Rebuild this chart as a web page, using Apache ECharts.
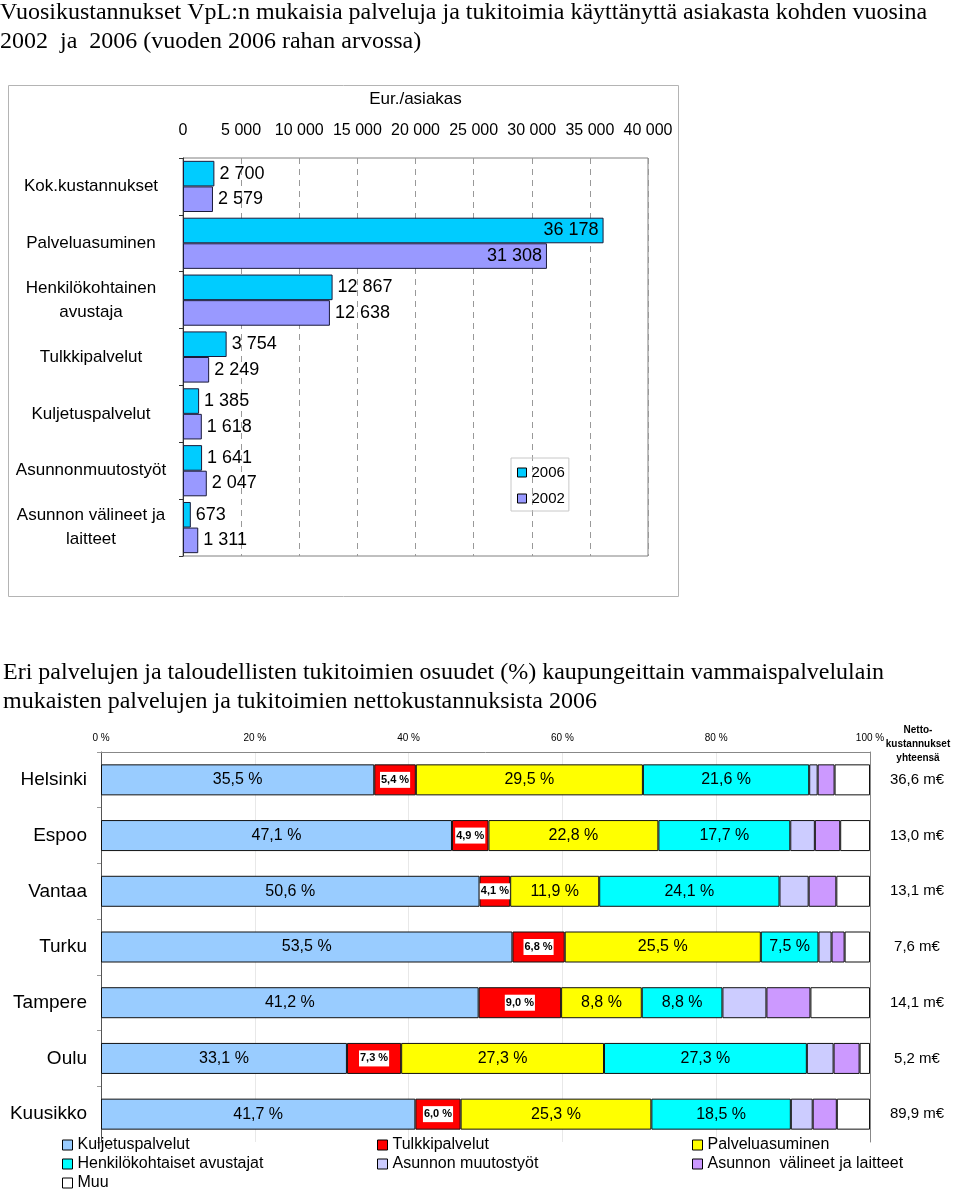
<!DOCTYPE html>
<html><head><meta charset="utf-8">
<script src="https://cdn.jsdelivr.net/npm/echarts@6/dist/echarts.min.js"></script>
<style>html,body{margin:0;padding:0;background:#fff}#c{width:960px;height:1191px}</style>
</head><body><div id="c"></div>
<script>
// ---- Top chart data (Eur./asiakas) ----
const costCategories = ['Kok.kustannukset', 'Palveluasuminen', 'Henkilökohtainen\navustaja', 'Tulkkipalvelut', 'Kuljetuspalvelut', 'Asunnonmuutostyöt', 'Asunnon välineet ja\nlaitteet'];
const costYears = ['2006', '2002'];
const cost2006 = [2700, 36178, 12867, 3754, 1385, 1641, 673];
const cost2002 = [2579, 31308, 12638, 2249, 1618, 2047, 1311];
const costAxisMax = 40000;
const costAxisStep = 5000;

// ---- Bottom chart data (% of net costs 2006) ----
const cities = ['Helsinki', 'Espoo', 'Vantaa', 'Turku', 'Tampere', 'Oulu', 'Kuusikko'];
const shareNames = ['Kuljetuspalvelut', 'Tulkkipalvelut', 'Palveluasuminen', 'Henkilökohtaiset avustajat', 'Asunnon muutostyöt', 'Asunnon  välineet ja laitteet', 'Muu'];
const kuljetus = [35.5, 47.1, 50.6, 53.5, 41.2, 33.1, 41.7];
const tulkki = [5.4, 4.9, 4.1, 6.8, 9.0, 7.3, 6.0];
const palveluasuminen = [29.5, 22.8, 11.9, 25.5, 8.8, 27.3, 25.3];
const avustajat = [21.6, 17.7, 24.1, 7.5, 8.8, 27.3, 18.5];
const muutostyot = [1.1, 3.3, 3.9, 1.7, 4.8, 3.6, 2.9];
const valineet = [2.2, 3.4, 3.7, 1.7, 4.8, 3.5, 3.2];
const muu = [4.6, 4.0, 4.5, 3.3, 6.5, 1.4, 4.4];
const nettoTotals = [36.6, 13.0, 13.1, 7.6, 14.1, 5.2, 89.9];
const pctTicks = [0, 20, 40, 60, 80, 100];

// ---- helpers ----
const fmtK = v => String(v).replace(/\B(?=(\d{3})+(?!\d))/g, ' ');
const fmtDec = v => v.toFixed(1).replace('.', ',');
const SANS = "'Liberation Sans', Arial, sans-serif";
const SERIF = "'Liberation Serif', 'Times New Roman', serif";

const shareArrays = [kuljetus, tulkki, palveluasuminen, avustajat, muutostyot, valineet, muu];
const shareColors = ['#99CCFF', '#FF0000', '#FFFF00', '#00FFFF', '#CCCCFF', '#CC99FF', '#FFFFFF'];
const rowTotals = cities.map((_, i) => shareArrays.reduce((s, a) => s + a[i], 0));

const chart = echarts.init(document.getElementById('c'), null, { renderer: 'canvas' });

const bottomSeries = shareArrays.map((arr, k) => {
  let label = { show: false };
  if (k === 0 || k === 2 || k === 3) {
    label = { show: true, position: 'inside', fontFamily: SANS, fontSize: 16, color: '#000',
      formatter: p => fmtDec(p.data.raw) + ' %' };
  } else if (k === 1) {
    label = { show: true, position: 'inside', fontFamily: SANS, fontSize: 11, fontWeight: 'bold', color: '#000',
      backgroundColor: '#fff', padding: [3, 1, 2, 1], formatter: p => fmtDec(p.data.raw) + ' %' };
  }
  return {
    type: 'bar', name: shareNames[k], stack: 'share', xAxisIndex: 1, yAxisIndex: 1,
    barWidth: 31,
    data: arr.map((v, i) => ({ value: v / rowTotals[i] * 100, raw: v })),
    itemStyle: { color: shareColors[k], borderColor: '#111', borderWidth: 1 },
    label: label,
    emphasis: { disabled: true },
    animation: false
  };
});

const topSeries = [cost2006, cost2002].map((arr, k) => ({
  type: 'bar', name: costYears[k], xAxisIndex: 0, yAxisIndex: 0,
  barGap: '0%', barCategoryGap: '10%',
  data: arr.map(v => ({ value: v, label: { position: v > 30000 ? 'insideRight' : 'right' } })),
  itemStyle: { color: k === 0 ? '#00CCFF' : '#9999FF', borderColor: '#1a1a3a', borderWidth: 1 },
  label: { show: true, position: 'right', distance: 5, fontFamily: SANS, fontSize: 18, color: '#000',
    formatter: p => fmtK(p.value) },
  emphasis: { disabled: true },
  animation: false
}));

const legendCommon = {
  orient: 'vertical', icon: 'rect', itemWidth: 10, itemHeight: 10, itemGap: 1, padding: 0,
  height: 60, width: 280,
  textStyle: { fontFamily: SANS, fontSize: 16, color: '#000', lineHeight: 18 },
  itemStyle: { borderColor: '#000', borderWidth: 1 }, selectedMode: false
};

chart.setOption({
  animation: false,
  backgroundColor: '#fff',
  textStyle: { fontFamily: SANS },
  title: [
    { text: 'Vuosikustannukset VpL:n mukaisia palveluja ja tukitoimia käyttänyttä asiakasta kohden vuosina\n2002  ja  2006 (vuoden 2006 rahan arvossa)',
      left: 0, top: -2, padding: 0,
      textStyle: { fontFamily: SERIF, fontSize: 24, fontWeight: 'normal', color: '#000', lineHeight: 29 } },
    { text: 'Eri palvelujen ja taloudellisten tukitoimien osuudet (%) kaupungeittain vammaispalvelulain\nmukaisten palvelujen ja tukitoimien nettokustannuksista 2006',
      left: 3, top: 658, padding: 0,
      textStyle: { fontFamily: SERIF, fontSize: 24, fontWeight: 'normal', color: '#000', lineHeight: 29 } },
    { text: 'Netto-\nkustannukset\nyhteensä', left: 918, top: 723, padding: 0, textAlign: 'center',
      textStyle: { fontFamily: SANS, fontSize: 10, fontWeight: 'bold', color: '#000', lineHeight: 14, align: 'center' } }
  ],
  graphic: [
    { type: 'rect', shape: { x: 8.5, y: 85.5, width: 670, height: 511 },
      style: { fill: 'none', stroke: '#b4b4b4', lineWidth: 1 }, silent: true, z: -1 }
  ],
  legend: [
    { data: costYears, orient: 'vertical', left: 511, top: 458, icon: 'rect', itemWidth: 9, itemHeight: 9,
      itemGap: 11, padding: [7, 4, 5, 6], borderColor: '#c8c8c8', borderWidth: 1,
      textStyle: { fontFamily: SANS, fontSize: 15, color: '#000' },
      itemStyle: { borderColor: '#000', borderWidth: 1 }, selectedMode: false },
    Object.assign({ data: [shareNames[0], shareNames[3], shareNames[6]], left: 62, top: 1136 }, legendCommon),
    Object.assign({ data: [shareNames[1], shareNames[4]], left: 377, top: 1136 }, legendCommon),
    Object.assign({ data: [shareNames[2], shareNames[5]], left: 692, top: 1136 }, legendCommon)
  ],
  grid: [
    { left: 183, top: 158, width: 465, height: 398, show: true, borderColor: '#808080', borderWidth: 1, containLabel: false },
    { left: 101, top: 752, width: 769, height: 390, containLabel: false }
  ],
  xAxis: [
    { gridIndex: 0, type: 'value', position: 'top', min: 0, max: costAxisMax, interval: costAxisStep,
      name: 'Eur./asiakas', nameLocation: 'middle', nameGap: 50,
      nameTextStyle: { fontFamily: SANS, fontSize: 17, color: '#000' },
      axisLabel: { fontFamily: SANS, fontSize: 16, color: '#000', margin: 19, formatter: v => fmtK(v) },
      axisLine: { show: false }, axisTick: { show: false },
      splitLine: { show: true, lineStyle: { color: '#999', type: [6, 5], width: 1 } } },
    { gridIndex: 1, type: 'value', position: 'top', min: pctTicks[0], max: pctTicks[pctTicks.length - 1], interval: pctTicks[1] - pctTicks[0],
      axisLabel: { fontFamily: SANS, fontSize: 10, color: '#000', margin: 9, formatter: '{value} %' },
      axisLine: { show: true, lineStyle: { color: '#888' } }, axisTick: { show: false },
      splitLine: { show: true, lineStyle: { color: '#e8e8e8' } } }
  ],
  yAxis: [
    { gridIndex: 0, type: 'category', inverse: true, data: costCategories,
      axisLabel: { fontFamily: SANS, fontSize: 17, color: '#000', align: 'center', margin: 92, lineHeight: 24 },
      axisLine: { show: true, lineStyle: { color: '#333' } },
      axisTick: { show: true, length: 4, lineStyle: { color: '#333' } } },
    { gridIndex: 1, type: 'category', inverse: true, data: cities,
      axisLabel: { fontFamily: SANS, fontSize: 19, color: '#000', margin: 14 },
      axisLine: { show: true, lineStyle: { color: '#555' } },
      axisTick: { show: true, length: 4, lineStyle: { color: '#999' } } },
    { gridIndex: 1, type: 'category', inverse: true, position: 'right',
      data: nettoTotals.map(v => fmtDec(v) + ' m€'),
      axisLabel: { fontFamily: SANS, fontSize: 15, color: '#000', align: 'center', margin: 47 },
      axisLine: { show: true, lineStyle: { color: '#888' } }, axisTick: { show: false } }
  ],
  series: topSeries.concat(bottomSeries)
});
</script>
</body></html>
